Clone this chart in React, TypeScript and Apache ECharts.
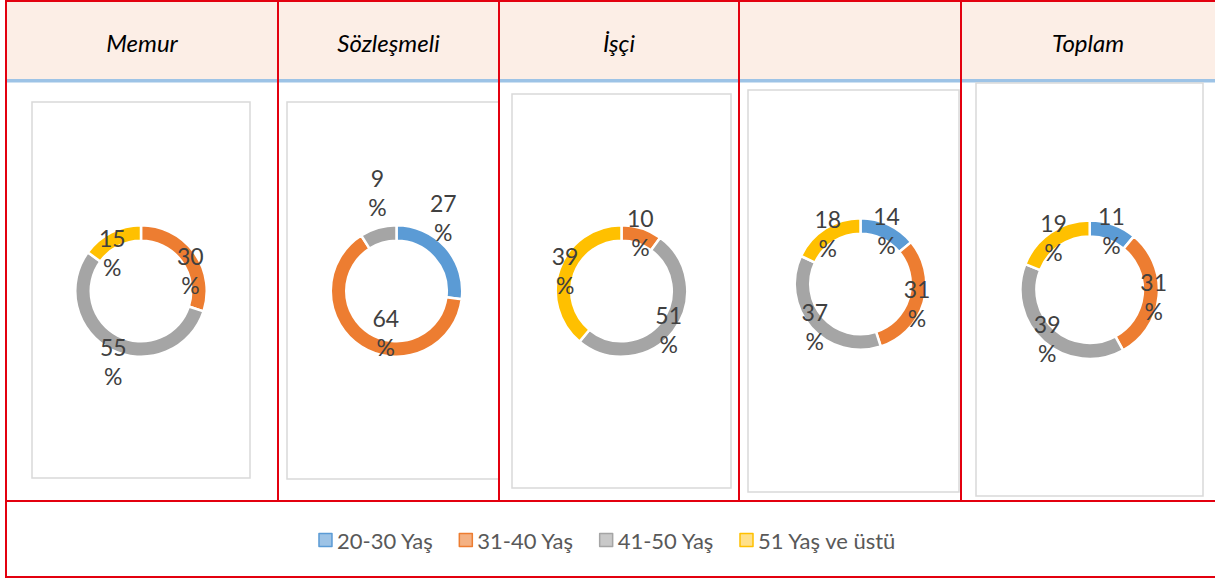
import { useEffect, useRef } from "react";
import * as echarts from "echarts";

// ---- data ----
const CATEGORIES = ["20-30 Yaş", "31-40 Yaş", "41-50 Yaş", "51 Yaş ve üstü"];
const GROUP_TITLES = ["Memur", "Sözleşmeli", "İşçi", "", "Toplam"];
const MEMUR = [0, 30, 55, 15];
const SOZLESMELI = [27, 64, 9, 0];
const ISCI = [0, 10, 51, 39];
const UNTITLED = [14, 31, 37, 18];
const TOPLAM = [11, 31, 39, 19];
const GROUP_VALUES = [MEMUR, SOZLESMELI, ISCI, UNTITLED, TOPLAM];

// ---- styles / layout ----
const COLORS = ["#5B9BD5", "#ED7D31", "#A5A5A5", "#FFC000"];
const LEGEND_FILL = ["#9DC3E6", "#F4B183", "#C9C9C9", "#FFE08A"];
const RED = "#E3000F";
const FONT = "Lato, 'Open Sans', sans-serif";
const W = 1215;
const H = 579;
const LEFT = 6;
const COL_EDGES = [6, 278, 499, 739, 961, 1215];
const HEADER_H = 80;
const BODY_BOTTOM = 501;

const PANELS = [
  { center: [141, 291], radius: [50.25, 65.75], box: [32, 102, 250, 478], shift: [[0, 0], [0, 15], [0, 16], [-1, 16]] },
  { center: [396.5, 291], radius: [50.25, 65.75], box: [287, 102, 499, 479], shift: [[1, -33], [22, -10], [-2, -40], [0, 0]] },
  { center: [621.5, 291], radius: [50.25, 65.75], box: [512, 94, 731, 488], shift: [[0, 0], [0, 0], [-1, 1], [1, 0]] },
  { center: [860.5, 284], radius: [50.25, 65.75], box: [748, 90, 959, 492], shift: [[0, 2], [-2, 2], [0, 2], [0, 1]] },
  { center: [1089.7, 289.7], radius: [53.25, 69.25], box: [976, 83, 1203, 496], shift: [[0, 1], [0, 1], [0, 1], [0, 1]] },
];

export default function App() {
  const ref = useRef<HTMLDivElement>(null);

  useEffect(() => {
    if (!ref.current) return;
    const chart = echarts.init(ref.current, null, { renderer: "svg" });

    const graphics: any[] = [];
    // header band
    graphics.push({ type: "rect", z: 0, shape: { x: LEFT, y: 0, width: W - LEFT, height: HEADER_H }, style: { fill: "#FCEEE6" } });
    graphics.push({ type: "rect", z: 0, shape: { x: LEFT, y: HEADER_H - 1, width: W - LEFT, height: 3.5 }, style: { fill: "#9DC3E6" } });
    // chart boxes
    PANELS.forEach((p) => {
      const [x1, y1, x2, y2] = p.box;
      graphics.push({
        type: "rect",
        z: 0,
        shape: { x: x1, y: y1, width: x2 - x1, height: y2 - y1 },
        style: { fill: "#fff", stroke: "#D9D9D9", lineWidth: 1.5 },
      });
    });
    // red grid lines
    const redLine = (x1: number, y1: number, x2: number, y2: number) =>
      graphics.push({ type: "line", z: 1, shape: { x1, y1, x2, y2 }, style: { stroke: RED, lineWidth: 2 } });
    redLine(LEFT, 1, W, 1);
    redLine(LEFT, BODY_BOTTOM, W, BODY_BOTTOM);
    redLine(LEFT, H - 2, W, H - 2);
    redLine(LEFT, 0, LEFT, H - 1);
    COL_EDGES.slice(1, -1).forEach((x) => redLine(x, 0, x, BODY_BOTTOM));
    // header titles
    GROUP_TITLES.forEach((t, i) => {
      if (!t) return;
      graphics.push({
        type: "text",
        z: 2,
        x: (COL_EDGES[i] + COL_EDGES[i + 1]) / 2,
        y: 42,
        style: {
          text: t,
          font: `italic 24px ${FONT}`,
          fill: "#000",
          align: "center",
          verticalAlign: "middle",
          textAlign: "center",
          textVerticalAlign: "middle",
        },
      });
    });

    const series = GROUP_VALUES.map((vals, gi) => {
      const panel = PANELS[gi];
      const items = vals
        .map((v, ci) => ({ name: CATEGORIES[ci], value: v, ci, itemStyle: { color: COLORS[ci] } }))
        .filter((d) => d.value > 0);
      return {
        type: "pie",
        name: GROUP_TITLES[gi] || "—",
        center: panel.center,
        radius: panel.radius,
        startAngle: 90,
        clockwise: true,
        avoidLabelOverlap: false,
        silent: true,
        emphasis: { disabled: true },
        itemStyle: { borderColor: "#fff", borderWidth: 2.5 },
        label: {
          show: true,
          position: "inside",
          formatter: "{c}\n%",
          fontSize: 23,
          lineHeight: 29,
          color: "#404040",
          fontFamily: FONT,
          textBorderWidth: 0,
        },
        labelLine: { show: false },
        labelLayout: (p: any) => {
          const it = items[p.dataIndex];
          const s = it ? panel.shift[it.ci] : [0, 0];
          return { dx: s[0], dy: s[1] };
        },
        data: items.map((d) => ({ name: d.name, value: d.value, itemStyle: d.itemStyle })),
      };
    });

    chart.setOption({
      animation: false,
      backgroundColor: "#fff",
      graphic: { elements: graphics },
      legend: {
        top: 524,
        left: "center",
        icon: "rect",
        itemWidth: 13,
        itemHeight: 13,
        itemGap: 25,
        selectedMode: false,
        textStyle: { fontSize: 22, color: "#595959", fontFamily: FONT },
        data: CATEGORIES.map((n, i) => ({
          name: n,
          itemStyle: { color: LEGEND_FILL[i], borderColor: COLORS[i], borderWidth: 1.5 },
        })),
      },
      series,
    });

    return () => chart.dispose();
  }, []);

  return (
    <div
      ref={ref}
      style={{ position: "absolute", left: 0, top: 0, width: W, height: H, background: "#fff" }}
    />
  );
}
